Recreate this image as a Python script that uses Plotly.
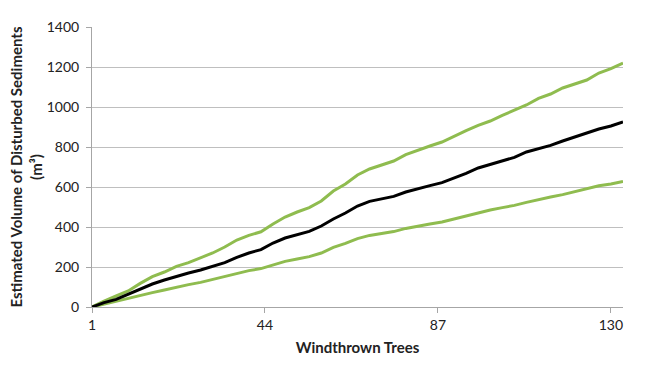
import plotly.graph_objects as go

trees = [1, 4, 7, 10, 13, 16, 19, 22, 25, 28, 31, 34, 37, 40, 43, 46, 49, 52, 55, 58,
         61, 64, 67, 70, 73, 76, 79, 82, 85, 88, 91, 94, 97, 100, 103, 106, 109, 112,
         115, 118, 121, 124, 127, 130, 133]

upper = [0, 30, 55, 80, 118, 152, 175, 203, 222, 245, 270, 300, 335, 358, 376, 415,
         450, 475, 497, 530, 580, 615, 660, 690, 712, 730, 762, 785, 805, 825, 855,
         882, 908, 930, 958, 982, 1010, 1043, 1065, 1095, 1115, 1135, 1170, 1192, 1220]

mean = [0, 22, 38, 65, 90, 115, 135, 153, 170, 185, 202, 222, 248, 270, 287, 320,
        345, 362, 378, 405, 440, 470, 505, 528, 542, 553, 575, 592, 607, 622, 645,
        668, 695, 712, 730, 748, 775, 792, 808, 830, 850, 867, 890, 905, 925]

lower = [0, 15, 30, 45, 58, 72, 85, 100, 112, 123, 138, 152, 167, 182, 192, 210,
         228, 240, 252, 270, 298, 318, 342, 358, 368, 377, 393, 405, 415, 425, 440,
         455, 472, 485, 497, 508, 523, 538, 550, 562, 577, 590, 606, 615, 628]

x_ticks = [1, 44, 87, 130]
y_ticks = [0, 200, 400, 600, 800, 1000, 1200, 1400]

GREEN = "#8fbc4f"
FONT = "Lato, 'Open Sans', sans-serif"

fig = go.Figure()
fig.add_trace(go.Scatter(x=trees, y=upper, mode="lines",
                         line=dict(color=GREEN, width=3), showlegend=False))
fig.add_trace(go.Scatter(x=trees, y=lower, mode="lines",
                         line=dict(color=GREEN, width=3), showlegend=False))
fig.add_trace(go.Scatter(x=trees, y=mean, mode="lines",
                         line=dict(color="black", width=3), showlegend=False))

fig.update_layout(
    width=650, height=372,
    margin=dict(l=92, r=27, t=27, b=65),
    paper_bgcolor="white", plot_bgcolor="white",
    font=dict(family=FONT, size=14, color="#222"),
    xaxis=dict(
        range=[1, 133], tickmode="array", tickvals=x_ticks,
        ticktext=[str(v) for v in x_ticks],
        showgrid=False, zeroline=False,
        showline=True, linecolor="#a6a6a6", linewidth=1,
        ticks="outside", ticklen=5, tickcolor="#a6a6a6",
        tickfont=dict(size=14),
        title=dict(text="<b>Windthrown Trees</b>", font=dict(size=15), standoff=10),
    ),
    yaxis=dict(
        range=[0, 1400], tickmode="array", tickvals=y_ticks,
        showgrid=True, gridcolor="#bfbfbf", gridwidth=1,
        zeroline=False,
        showline=True, linecolor="#a6a6a6", linewidth=1,
        ticks="outside", ticklen=5, tickcolor="#a6a6a6",
        tickfont=dict(size=14), ticklabelstandoff=4,
        title=dict(text="<b>Estimated Volume of Disturbed Sediments<br>(m³)</b>",
                   font=dict(size=15), standoff=0),
    ),
)

fig.write_html("out.html", config={"displayModeBar": False},
               post_script="document.body.style.margin='0';")
